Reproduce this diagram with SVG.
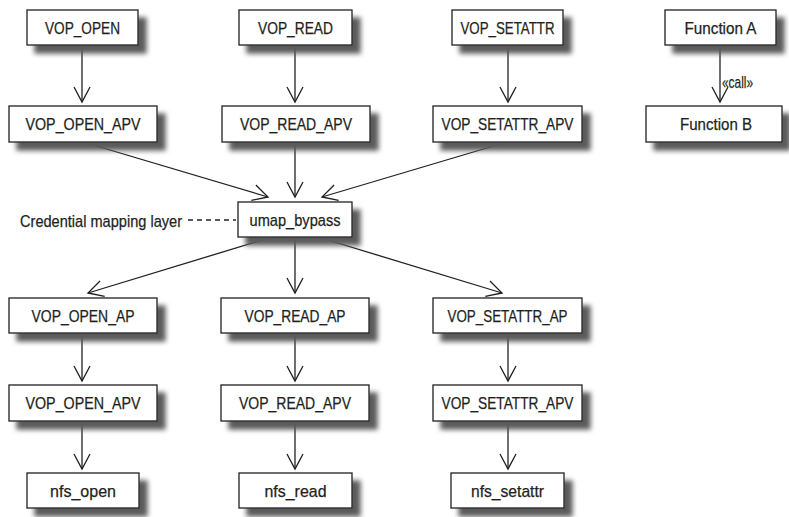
<svg xmlns="http://www.w3.org/2000/svg" width="789" height="517" viewBox="0 0 789 517">
<defs>
<filter id="shadow" x="-10%" y="-20%" width="130%" height="160%">
<feFlood flood-color="#5a5a5a" result="c"/>
<feComposite in="c" in2="SourceAlpha" operator="in" result="s"/>
<feOffset in="s" dx="8" dy="8" result="o"/>
<feGaussianBlur in="o" stdDeviation="2.5" result="b"/>
<feMerge><feMergeNode in="b"/><feMergeNode in="SourceGraphic"/></feMerge>
</filter>
<marker id="arrow" markerUnits="userSpaceOnUse" markerWidth="20" markerHeight="20" viewBox="-17 -10 20 20" refX="0" refY="0" orient="auto">
<path d="M-15,-8 L0,0 L-15,8" fill="none" stroke="#231f20" stroke-width="1.3"/>
</marker>
</defs>
<style>
.box{fill:#fff;stroke:#231f20;stroke-width:1.3;filter:url(#shadow)}
text{font-family:"Liberation Sans",Arial,sans-serif;font-size:17px;fill:#231f20;stroke:#231f20;stroke-width:0.25}
.c{text-anchor:middle}
.edge{fill:none;stroke:#231f20;stroke-width:1.3;marker-end:url(#arrow)}
.dash{fill:none;stroke:#231f20;stroke-width:1.3;stroke-dasharray:5 4}
</style>
<rect width="789" height="517" fill="#fff"/>
<g id="connectors">
<line class="edge" x1="82" y1="45" x2="82" y2="102"/>
<line class="edge" x1="295" y1="45" x2="295" y2="102"/>
<line class="edge" x1="508" y1="45" x2="508" y2="102"/>
<line class="edge" x1="720" y1="45" x2="720" y2="102"/>
<line class="edge" x1="83" y1="142" x2="268" y2="197"/>
<line class="edge" x1="295" y1="142" x2="295" y2="197"/>
<line class="edge" x1="507" y1="142" x2="322" y2="197"/>
<line class="edge" x1="272" y1="237" x2="88" y2="293"/>
<line class="edge" x1="295" y1="237" x2="295" y2="293"/>
<line class="edge" x1="318" y1="237" x2="502" y2="293"/>
<line class="edge" x1="82" y1="333" x2="82" y2="381"/>
<line class="edge" x1="295" y1="333" x2="295" y2="381"/>
<line class="edge" x1="508" y1="333" x2="508" y2="381"/>
<line class="edge" x1="82" y1="421" x2="82" y2="469"/>
<line class="edge" x1="295" y1="421" x2="295" y2="469"/>
<line class="edge" x1="508" y1="421" x2="508" y2="469"/>
<line class="dash" x1="188" y1="220" x2="236" y2="220"/>
<text x="722" y="88" textLength="31" lengthAdjust="spacingAndGlyphs">«call»</text>
<text x="20" y="227" textLength="162" lengthAdjust="spacingAndGlyphs">Credential mapping layer</text>
</g>
<g id="vop_open"><rect class="box" x="27" y="10" width="111" height="35"/><text class="c" x="82.5" y="34" textLength="75" lengthAdjust="spacingAndGlyphs">VOP_OPEN</text></g>
<g id="vop_read"><rect class="box" x="239" y="10" width="113" height="35"/><text class="c" x="295.5" y="34" textLength="75" lengthAdjust="spacingAndGlyphs">VOP_READ</text></g>
<g id="vop_setattr"><rect class="box" x="452" y="10" width="111" height="35"/><text class="c" x="507.5" y="34" textLength="94" lengthAdjust="spacingAndGlyphs">VOP_SETATTR</text></g>
<g id="function_a"><rect class="box" x="665" y="10" width="111" height="35"/><text class="c" x="720.5" y="34" textLength="72" lengthAdjust="spacingAndGlyphs">Function A</text></g>
<g id="vop_open_apv_1"><rect class="box" x="9" y="106" width="148" height="36"/><text class="c" x="83" y="129.5" textLength="115" lengthAdjust="spacingAndGlyphs">VOP_OPEN_APV</text></g>
<g id="vop_read_apv_1"><rect class="box" x="222" y="106" width="148" height="36"/><text class="c" x="296" y="129.5" textLength="112" lengthAdjust="spacingAndGlyphs">VOP_READ_APV</text></g>
<g id="vop_setattr_apv_1"><rect class="box" x="433" y="106" width="149" height="36"/><text class="c" x="507.5" y="129.5" textLength="132" lengthAdjust="spacingAndGlyphs">VOP_SETATTR_APV</text></g>
<g id="function_b"><rect class="box" x="646" y="106" width="136" height="36"/><text class="c" x="716" y="129.5" textLength="72" lengthAdjust="spacingAndGlyphs">Function B</text></g>
<g id="umap_bypass"><rect class="box" x="238" y="202" width="114" height="35"/><text class="c" x="295" y="226" textLength="91" lengthAdjust="spacingAndGlyphs">umap_bypass</text></g>
<g id="vop_open_ap"><rect class="box" x="9" y="298" width="148" height="35"/><text class="c" x="83" y="322" textLength="103" lengthAdjust="spacingAndGlyphs">VOP_OPEN_AP</text></g>
<g id="vop_read_ap"><rect class="box" x="221" y="298" width="148" height="35"/><text class="c" x="295" y="322" textLength="101" lengthAdjust="spacingAndGlyphs">VOP_READ_AP</text></g>
<g id="vop_setattr_ap"><rect class="box" x="433" y="298" width="149" height="35"/><text class="c" x="507.5" y="322" textLength="120" lengthAdjust="spacingAndGlyphs">VOP_SETATTR_AP</text></g>
<g id="vop_open_apv_2"><rect class="box" x="9" y="385" width="148" height="36"/><text class="c" x="83" y="409" textLength="115" lengthAdjust="spacingAndGlyphs">VOP_OPEN_APV</text></g>
<g id="vop_read_apv_2"><rect class="box" x="221" y="385" width="148" height="36"/><text class="c" x="295" y="409" textLength="112" lengthAdjust="spacingAndGlyphs">VOP_READ_APV</text></g>
<g id="vop_setattr_apv_2"><rect class="box" x="433" y="385" width="149" height="36"/><text class="c" x="507.5" y="409" textLength="132" lengthAdjust="spacingAndGlyphs">VOP_SETATTR_APV</text></g>
<g id="nfs_open"><rect class="box" x="27" y="473" width="112" height="35"/><text class="c" x="83" y="497" textLength="66" lengthAdjust="spacingAndGlyphs">nfs_open</text></g>
<g id="nfs_read"><rect class="box" x="239" y="473" width="113" height="35"/><text class="c" x="295.5" y="497" textLength="62" lengthAdjust="spacingAndGlyphs">nfs_read</text></g>
<g id="nfs_setattr"><rect class="box" x="451" y="473" width="113" height="35"/><text class="c" x="507.5" y="497" textLength="73" lengthAdjust="spacingAndGlyphs">nfs_setattr</text></g>
</svg>
